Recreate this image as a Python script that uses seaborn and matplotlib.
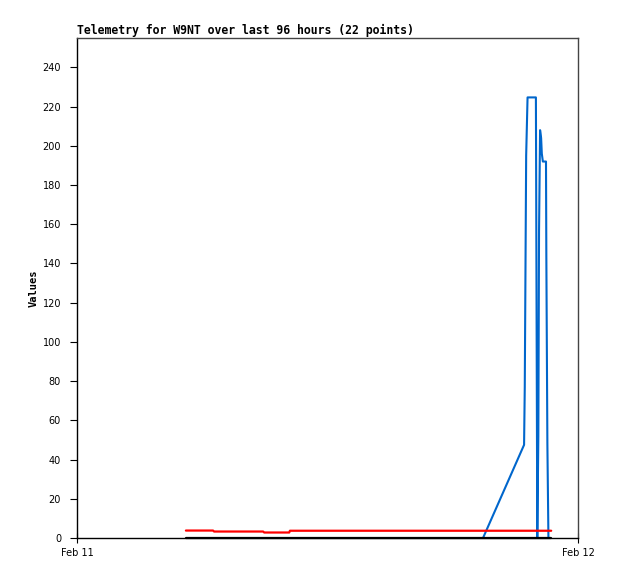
import matplotlib
matplotlib.use("Agg")
import matplotlib.pyplot as plt
import seaborn as sns
import pandas as pd

sns.set_theme(style="white")
plt.rcParams['font.family'] = ['DejaVu Sans']
plt.rcParams['text.color'] = 'black'
plt.rcParams['axes.labelcolor'] = 'black'
plt.rcParams['xtick.color'] = 'black'
plt.rcParams['ytick.color'] = 'black'

# --- data ---
title = "Telemetry for W9NT over last 96 hours (22 points)"
x_tick_labels = ["Feb 11", "Feb 12"]
x_tick_times = ["2024-02-11 00:00", "2024-02-12 00:00"]
y_ticks = [0, 20, 40, 60, 80, 100, 120, 140, 160, 180, 200, 220, 240]

red_times = ["2024-02-11 05:13", "2024-02-11 06:31", "2024-02-11 06:34",
             "2024-02-11 08:55", "2024-02-11 08:58", "2024-02-11 10:10",
             "2024-02-11 10:12", "2024-02-11 22:43"]
red_values = [3.8, 3.8, 3.3, 3.3, 2.8, 2.8, 3.7, 3.7]

black_times = ["2024-02-11 05:13", "2024-02-11 22:43"]
black_values = [0, 0]

blue_times = ["2024-02-11 19:27", "2024-02-11 21:25", "2024-02-11 21:27",
              "2024-02-11 21:29", "2024-02-11 21:31", "2024-02-11 21:35",
              "2024-02-11 21:59", "2024-02-11 22:01", "2024-02-11 22:03",
              "2024-02-11 22:06", "2024-02-11 22:08", "2024-02-11 22:11",
              "2024-02-11 22:14", "2024-02-11 22:16", "2024-02-11 22:19",
              "2024-02-11 22:28", "2024-02-11 22:29", "2024-02-11 22:32",
              "2024-02-11 22:35"]
blue_values = [0, 47.5, 77, 136, 195, 224.7, 224.7, 112, 0, 52, 156, 208,
               204, 196, 192, 192, 144, 48, 0]

df_red = pd.DataFrame({"time": pd.to_datetime(red_times), "value": red_values})
df_black = pd.DataFrame({"time": pd.to_datetime(black_times), "value": black_values})
df_blue = pd.DataFrame({"time": pd.to_datetime(blue_times), "value": blue_values})

fig = plt.figure(figsize=(6.18, 5.79), dpi=100)
ax = fig.add_axes([77/618, 1-538/579, 501/618, 500/579])

sns.lineplot(data=df_blue, x="time", y="value", ax=ax, color="#0066cc",
             linewidth=1.5, sort=False, estimator=None)
sns.lineplot(data=df_red, x="time", y="value", ax=ax, color="#ff0000",
             linewidth=1.6, sort=False, estimator=None)
sns.lineplot(data=df_black, x="time", y="value", ax=ax, color="#000000",
             linewidth=1.6, sort=False, estimator=None, clip_on=False)

ax.set_xlim(pd.to_datetime(x_tick_times[0]), pd.to_datetime(x_tick_times[1]))
ax.set_ylim(0, 255)
ax.set_xticks(pd.to_datetime(x_tick_times))
ax.set_xticklabels(x_tick_labels)
ax.set_yticks(y_ticks)
ax.set_yticklabels([str(v) for v in y_ticks])

ax.set_xlabel("")
ax.set_ylabel("Values", family="DejaVu Sans Mono", fontweight="bold",
              fontsize=7.5, labelpad=3, color="black")
ax.set_title(title, loc="left", family="DejaVu Sans Mono", fontweight="bold",
             fontsize=8.3, pad=3, color="black")

ax.tick_params(axis="y", which="both", left=True, direction="out", length=5,
               width=0.8, color="#000000", labelsize=7, pad=6.5,
               labelcolor="black")
ax.tick_params(axis="x", which="both", bottom=True, direction="inout",
               length=7, width=0.8, color="#000000", labelsize=7, pad=4,
               labelcolor="black")

for side in ["left", "bottom"]:
    ax.spines[side].set_color("#000000")
    ax.spines[side].set_linewidth(1.0)
for side in ["top", "right"]:
    ax.spines[side].set_color("#444444")
    ax.spines[side].set_linewidth(1.0)
ax.grid(False)
ax.set_facecolor("white")
fig.patch.set_facecolor("white")

fig.savefig("out.png", dpi=100)
